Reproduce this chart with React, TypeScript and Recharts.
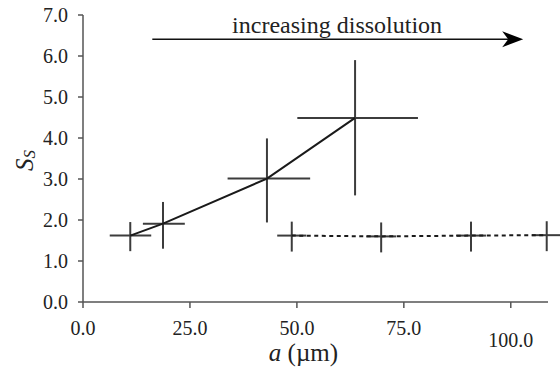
import {
  ErrorBar,
  Label,
  ReferenceDot,
  ReferenceLine,
  Scatter,
  ScatterChart,
  XAxis,
  YAxis,
} from "recharts";

const FONT = "Liberation Serif, DejaVu Serif, serif";
const INK = "#1a1a1a";
const BAR = "#3c3c3c";
const AXIS = "#555";
const TXT = { fontFamily: FONT, fill: "#222" };

// a (µm) and S_S
const solidA = [11.05, 18.7, 43.0, 63.6];
const solidS = [1.62, 1.91, 3.01, 4.49];
const solidAErr = [[4.8, 4.9], [4.7, 5.1], [9.2, 10.1], [13.5, 14.7]];
const solidSErr = [[0.38, 0.33], [0.61, 0.53], [1.07, 0.98], [1.89, 1.41]];

const dashedA = [48.8, 69.7, 90.7, 108.4];
const dashedS = [1.62, 1.6, 1.62, 1.63];
const dashedAErr = [3.4, 3.5, 3.5, 3.5];
const dashedSErr = [[0.39, 0.34], [0.39, 0.34], [0.39, 0.34], [0.39, 0.34]];

const xTicks = [0, 25, 50, 75, 100];
const yTicks = [0, 1, 2, 3, 4, 5, 6, 7];

// annotation arrow, in data units
const arrowFrom = { x: 16.2, y: 6.41 };
const arrowTo = { x: 102.9, y: 6.41 };
const arrowText = { x: 59.4, y: 6.55, text: "increasing dissolution" };

const build = (a: number[], s: number[], ea: any[], es: any[]) =>
  a.map((v, i) => ({ a: v, s: s[i], ea: ea[i], es: es[i] }));

const solid = build(solidA, solidS, solidAErr, solidSErr);
const dashed = build(dashedA, dashedS, dashedAErr, dashedSErr);

const XTick = ({ x, y, payload }: any) => {
  const v = payload.value as number;
  return (
    <text
      x={x}
      y={y + (v === 100 ? 12 : 0)}
      dy="0.71em"
      textAnchor="middle"
      style={{ ...TXT, fontSize: 20 }}
    >
      {v.toFixed(1)}
    </text>
  );
};

const YTick = ({ x, y, payload }: any) => (
  <text x={x} y={y} dy="0.355em" textAnchor="end" style={{ ...TXT, fontSize: 20 }}>
    {(payload.value as number).toFixed(1)}
  </text>
);

const noDot = () => <g />;

const ArrowHead = ({ cx, cy }: any) => (
  <polygon
    points={`${cx},${cy} ${cx - 21},${cy - 8} ${cx - 15},${cy} ${cx - 21},${cy + 8}`}
    fill="#000"
  />
);

const ArrowText = ({ cx, cy }: any) => (
  <text x={cx} y={cy} textAnchor="middle" style={{ ...TXT, fontSize: 24 }}>
    {arrowText.text}
  </text>
);

export default function App() {
  return (
    <div style={{ position: "absolute", left: 0, top: 0, background: "#fff" }}>
      <ScatterChart
        width={560}
        height={368}
        margin={{ top: 15, right: 12, bottom: 0, left: 0 }}
      >
        <XAxis
          type="number"
          dataKey="a"
          domain={[0, 108.7]}
          allowDataOverflow
          ticks={xTicks}
          height={66}
          tickSize={6}
          tickMargin={13}
          tick={<XTick />}
          stroke={AXIS}
          strokeWidth={1.5}
        >
          <Label
            content={({ viewBox }: any) => (
              <text
                x={viewBox.x + viewBox.width / 2 - 12}
                y={viewBox.y + 59}
                textAnchor="middle"
                style={{ ...TXT, fontSize: 25 }}
              >
                <tspan style={{ fontStyle: "italic" }}>a</tspan>
                <tspan> (µm)</tspan>
              </text>
            )}
          />
        </XAxis>
        <YAxis
          type="number"
          dataKey="s"
          domain={[0, 7]}
          ticks={yTicks}
          width={83}
          tickSize={5}
          tickMargin={10}
          tick={<YTick />}
          stroke={AXIS}
          strokeWidth={1.5}
        >
          <Label
            content={({ viewBox }: any) => {
              const x = 33;
              const y = viewBox.y + viewBox.height / 2 + 2;
              return (
                <text
                  x={x}
                  y={y}
                  transform={`rotate(-90, ${x}, ${y})`}
                  textAnchor="middle"
                  style={{ ...TXT, fontStyle: "italic" }}
                >
                  <tspan style={{ fontSize: 25 }}>S</tspan>
                  <tspan style={{ fontSize: 17 }} dy={2}>S</tspan>
                </text>
              );
            }}
          />
        </YAxis>

        <ReferenceLine
          segment={[arrowFrom, { x: arrowTo.x - 3.5, y: arrowTo.y }]}
          stroke="#111"
          strokeWidth={1.6}
        />
        <ReferenceDot x={arrowTo.x} y={arrowTo.y} r={0} shape={<ArrowHead />} />
        <ReferenceDot x={arrowText.x} y={arrowText.y} r={0} shape={<ArrowText />} />

        <Scatter
          data={solid}
          line={{ stroke: INK, strokeWidth: 2 }}
          lineType="joint"
          shape={noDot}
          isAnimationActive={false}
        >
          <ErrorBar dataKey="ea" direction="x" width={0} stroke={BAR} strokeWidth={2} />
          <ErrorBar dataKey="es" direction="y" width={0} stroke={BAR} strokeWidth={2} />
        </Scatter>
        <Scatter
          data={dashed}
          line={{ stroke: INK, strokeWidth: 2, strokeDasharray: "4 3.5" }}
          lineType="joint"
          shape={noDot}
          isAnimationActive={false}
        >
          <ErrorBar dataKey="ea" direction="x" width={0} stroke={BAR} strokeWidth={2} />
          <ErrorBar dataKey="es" direction="y" width={0} stroke={BAR} strokeWidth={2} />
        </Scatter>
      </ScatterChart>
    </div>
  );
}
